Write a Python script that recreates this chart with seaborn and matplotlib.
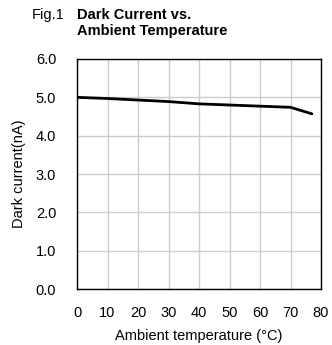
import pandas as pd
import matplotlib
matplotlib.use('Agg')
import matplotlib.pyplot as plt
import seaborn as sns

temps = [0, 10, 20, 30, 40, 50, 60, 70, 77]
dark_current = [5.0, 4.97, 4.93, 4.89, 4.83, 4.80, 4.77, 4.74, 4.57]
x_ticks = [0, 10, 20, 30, 40, 50, 60, 70, 80]
y_ticks = [0.0, 1.0, 2.0, 3.0, 4.0, 5.0, 6.0]

df = pd.DataFrame({'temp': temps, 'current': dark_current})

sns.set_style('white')
plt.rcParams['font.family'] = ['Liberation Sans', 'DejaVu Sans']
plt.rcParams['text.color'] = 'black'
plt.rcParams['axes.labelcolor'] = 'black'
plt.rcParams['xtick.color'] = 'black'
plt.rcParams['ytick.color'] = 'black'

fig = plt.figure(figsize=(3.32, 3.45), dpi=100)
ax = fig.add_axes([0.232, 0.162, 0.735, 0.667])

sns.lineplot(x='temp', y='current', data=df, ax=ax, color='black', linewidth=2.0)

ax.set_xlim(0, 80)
ax.set_ylim(0, 6)
ax.set_xticks(x_ticks)
ax.set_yticks(y_ticks)
ax.set_yticklabels([f'{v:.1f}' for v in y_ticks])
ax.grid(True, color='#cccccc', linewidth=1.0)
ax.set_axisbelow(True)
for s in ax.spines.values():
    s.set_color('black')
    s.set_linewidth(1.0)
ax.tick_params(direction='in', length=3, color='black', labelcolor='black', labelsize=10.5)
ax.tick_params(axis='x', pad=12)
ax.tick_params(axis='y', pad=15)

ax.set_xlabel('Ambient temperature (°C)', fontsize=10.5, labelpad=7)
ax.set_ylabel('Dark current(nA)', fontsize=10.5, labelpad=7)

fig.text(0.097, 0.946, 'Fig.1', fontsize=10.5, va='baseline')
fig.text(0.232, 0.946, 'Dark Current vs.', fontsize=10.5, fontweight='bold', va='baseline')
fig.text(0.232, 0.900, 'Ambient Temperature', fontsize=10.5, fontweight='bold', va='baseline')

fig.savefig('out.png', dpi=100)
